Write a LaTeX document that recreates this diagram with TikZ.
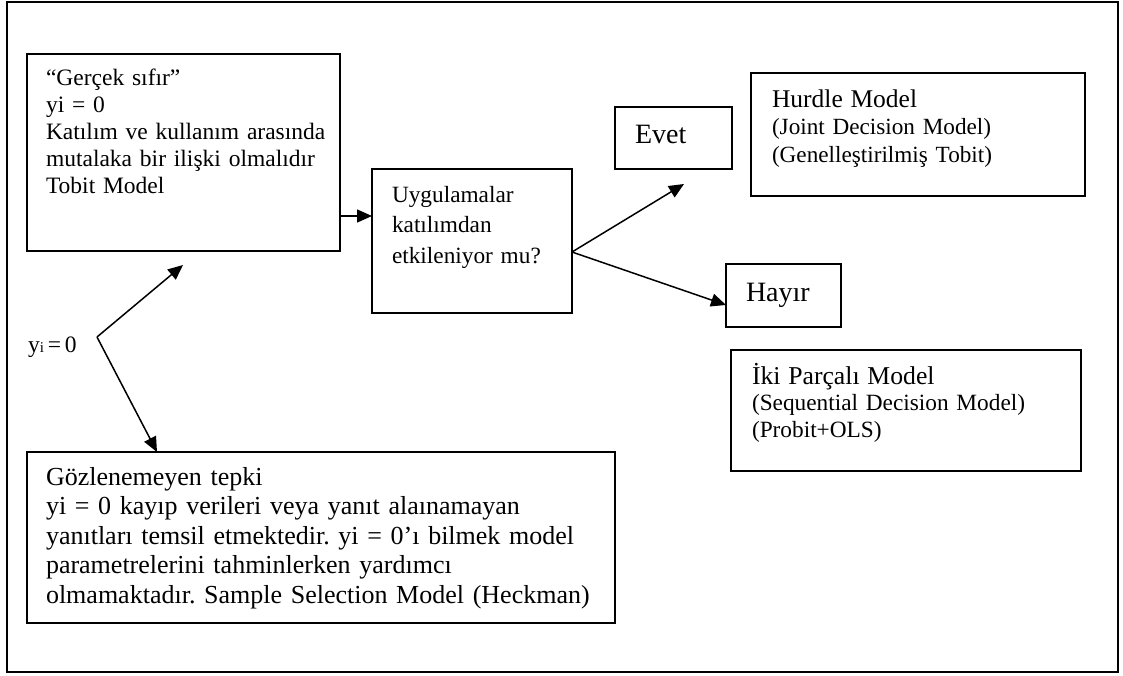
\documentclass[tikz,border=0pt]{standalone}
\usepackage{fontspec}
\setmainfont{Liberation Serif}
\usetikzlibrary{arrows.meta}
\frenchspacing
\tikzset{
  box/.style={draw, line width=1.5pt, inner sep=0pt, outer sep=0pt},
  arr/.style={line width=1.5pt, -{Triangle[length=15pt,width=13pt]}},
  txt/.style={inner sep=0pt, outer sep=0pt, anchor=base west, align=left, text width=#1},
  txt/.default=600pt
}
\newcommand{\fs}[2]{\fontsize{#1}{#2}\selectfont}
\begin{document}
\begin{tikzpicture}[x=1pt,y=1pt]
\useasboundingbox (0,0) rectangle (1123,-675);
\draw[line width=1.5pt] (7,-2) rectangle (1118,-672);

% boxes
\node[box, minimum width=313pt, minimum height=197pt] (b1) at (183.5,-152.5) {};
\node[box, minimum width=200pt, minimum height=144pt] (b2) at (472,-241) {};
\node[box, minimum width=117pt, minimum height=62pt] (ev) at (673.5,-138) {};
\node[box, minimum width=334pt, minimum height=123pt] (hu) at (918,-134.5) {};
\node[box, minimum width=115pt, minimum height=63pt] (hay) at (783.5,-295.5) {};
\node[box, minimum width=350pt, minimum height=121pt] (iki) at (906,-410.5) {};
\node[box, minimum width=588pt, minimum height=171pt] (b5) at (321,-537.5) {};

% texts
\node[txt, font=\fs{23.5}{27}] (t1) at (46,-85) {“Gerçek sıfır”\\yi = 0\\Katılım ve kullanım arasında\\mutalaka bir ilişki olmalıdır\\Tobit Model};
\node[txt, font=\fs{23.3}{30.5}] (t2) at (392,-202) {Uygulamalar\\katılımdan\\etkileniyor mu?};
\node[txt, font=\fs{28}{30}] (tev) at (635,-143) {Evet};
\node[txt, font=\fs{23.2}{27.5}] (thu) at (772,-107) {{\fs{25.5}{27.5}Hurdle Model}\\(Joint Decision Model)\\(Genelleştirilmiş Tobit)};
\node[txt, font=\fs{28}{30}] (thay) at (746,-301) {Hayır};
\node[txt, font=\fs{23.3}{26.5}] (tiki) at (752,-384) {{\fs{25.7}{26.5}İki Parçalı Model}\\(Sequential Decision Model)\\(Probit+OLS)};
\node[txt, font=\fs{26}{29.5}] (t5) at (46,-485) {Gözlenemeyen tepki\\yi = 0 kayıp verileri veya yanıt alaınamayan\\yanıtları temsil etmektedir. yi = 0’ı bilmek model\\parametrelerini tahminlerken yardımcı\\olmamaktadır. Sample Selection Model (Heckman)};
\node[txt, font=\fs{23.5}{27}] (tyi) at (28,-352) {y{\fs{15}{15}i}\,=\,0};

% connectors
\coordinate (v) at (97,-337);
\coordinate (uptip) at (183,-265);
\coordinate (evtip) at (684,-184);
\draw[arr] ([yshift=-63.5pt]b1.east) -- ([yshift=25pt]b2.west);
\draw[arr] ([yshift=-11pt]b2.east) -- (evtip);
\draw[arr] ([yshift=-11pt]b2.east) -- ([yshift=-9.5pt]hay.west);
\draw[arr] (v) -- (uptip);
\draw[arr] (v) -- ([xshift=-164pt]b5.north);
\end{tikzpicture}
\end{document}
